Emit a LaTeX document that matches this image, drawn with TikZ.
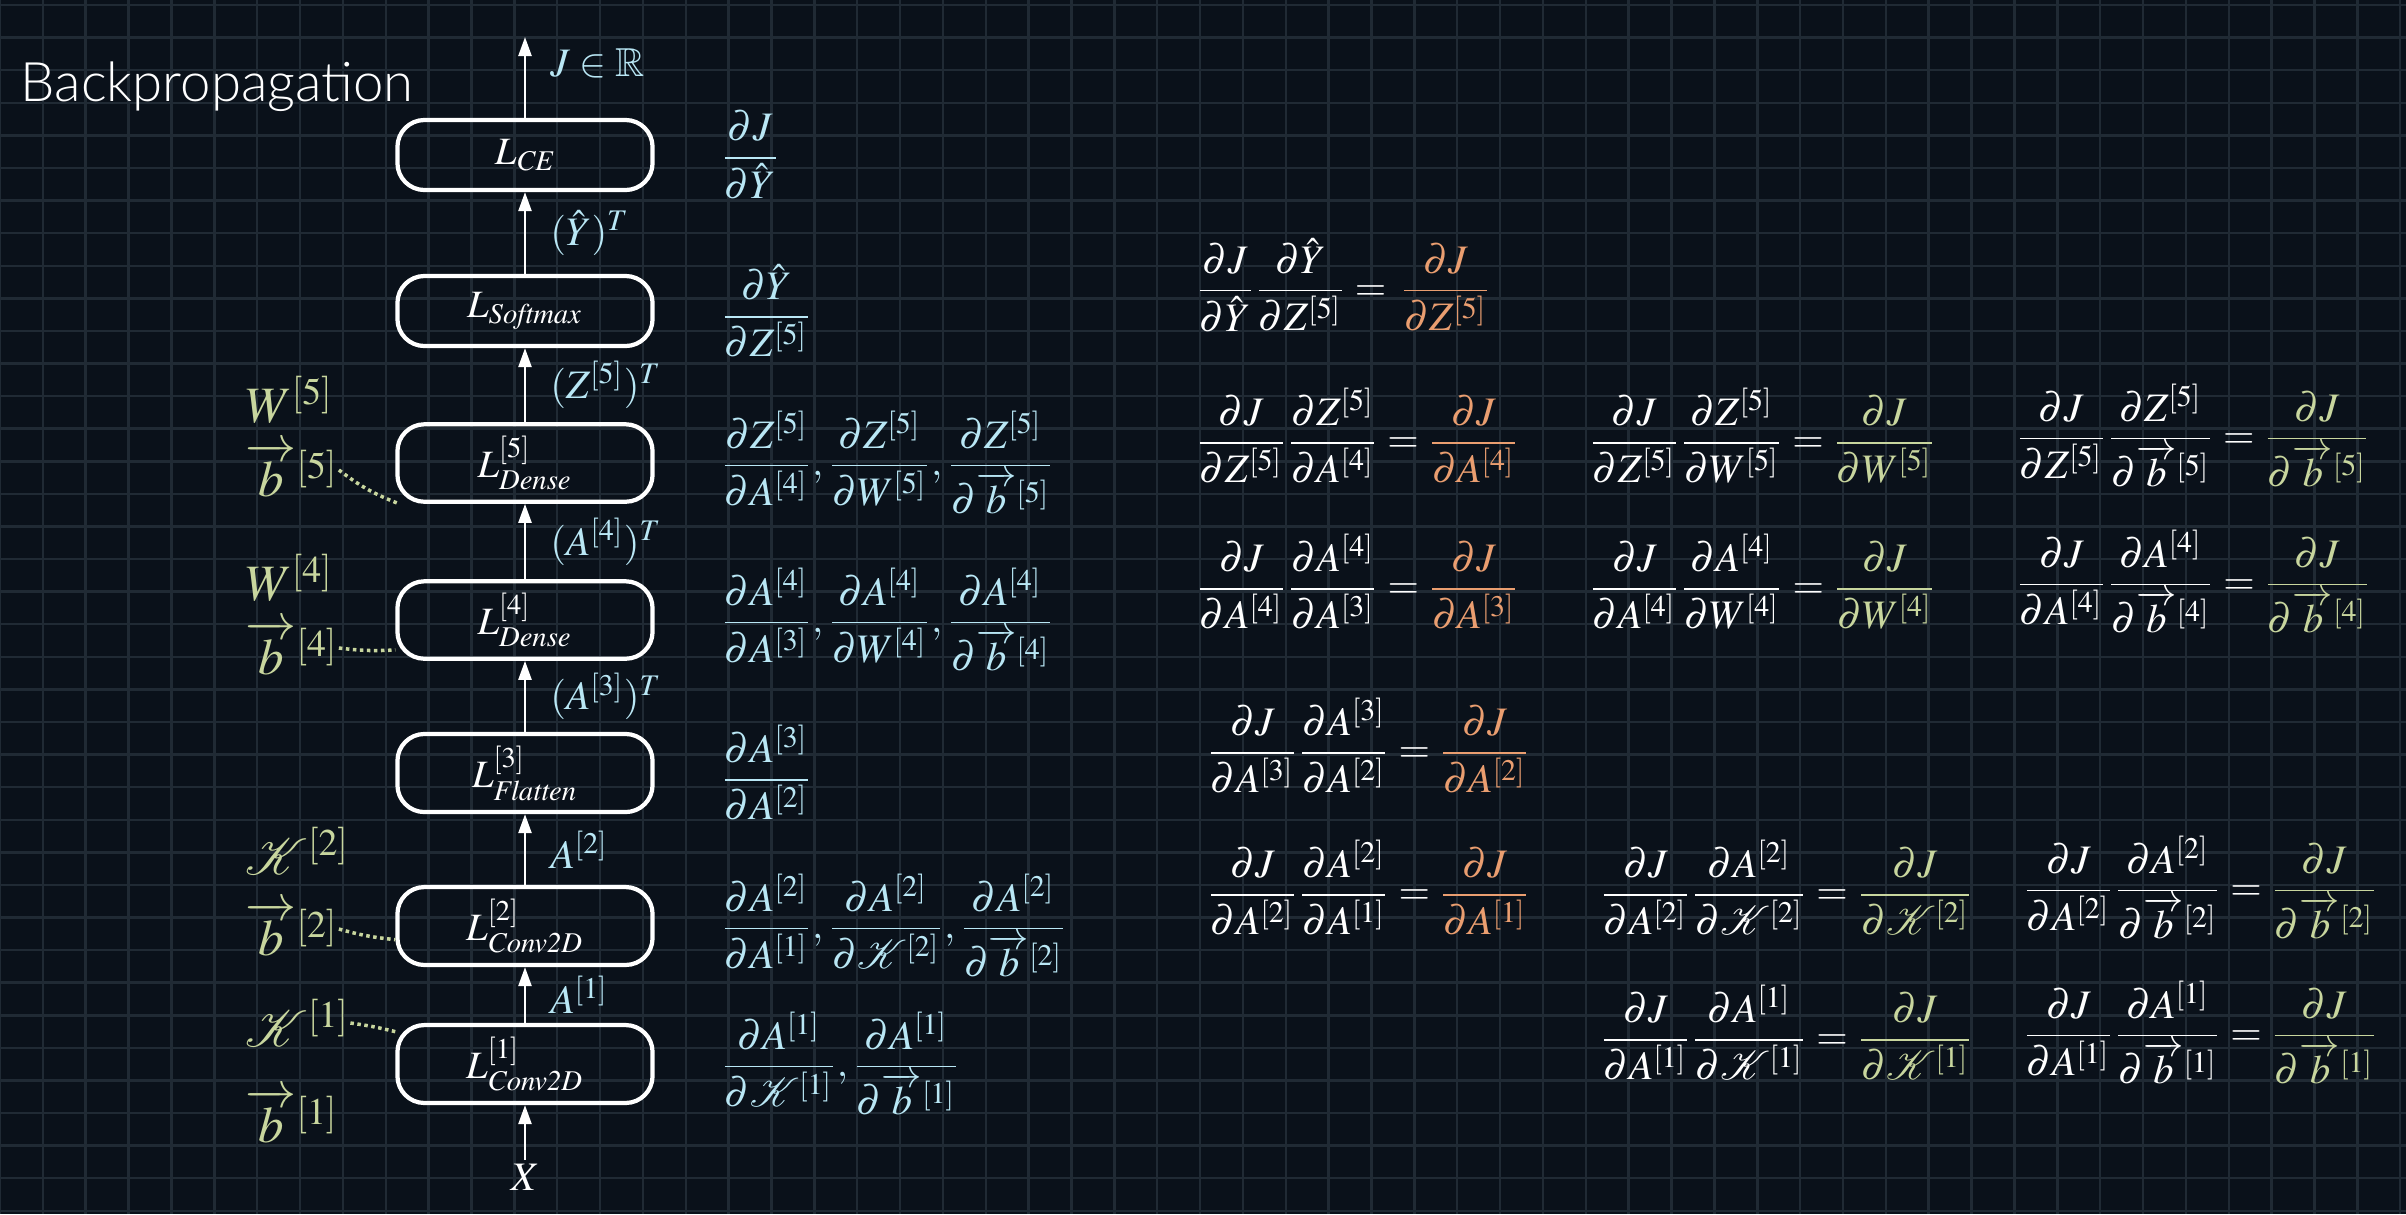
\documentclass[tikz,border=0pt]{standalone}
\usepackage{amsmath,amssymb}
% Times-like math when it is there, Computer Modern otherwise
\IfFileExists{mathptmx.sty}{%
    \usepackage{mathptmx}
    \newcommand{\eqsz}{11.5}\newcommand{\laysz}{11}\newcommand{\parsz}{14.5}}{%
    \newcommand{\eqsz}{11}\newcommand{\laysz}{10}\newcommand{\parsz}{13.5}}
\usepackage[no-math]{fontspec}
\usetikzlibrary{arrows.meta}

\IfFontExistsTF{Lato Light}{\newfontfamily\titlefont{Lato Light}}{\newfontfamily\titlefont{Lato}}

\definecolor{bgnavy}{RGB}{10,17,26}
\definecolor{gridcol}{RGB}{32,42,52}
\definecolor{lcyan}{RGB}{185,231,245}
\definecolor{lgreen}{RGB}{200,214,158}
\definecolor{lorange}{RGB}{234,158,112}

% partial derivative shorthands
\newcommand{\pfrac}[2]{\dfrac{\partial #1}{\partial #2}}
\newcommand{\bvec}{\overrightarrow{b}}
\newcommand{\orng}[1]{{\color{lorange}#1}}
\newcommand{\grn}[1]{{\color{lgreen}#1}}

\begin{document}
\begin{tikzpicture}[x=0.01cm, y=-0.01cm,
    layer/.style={draw=white, line width=1.2pt, rounded corners=0.27cm,
        minimum width=2.55cm, minimum height=0.70cm, text=white,
        font=\fontsize{\laysz}{12}\selectfont},
    flow/.style={white, line width=0.7pt, -{Triangle[width=0.13cm,length=0.19cm]}},
    elabel/.style={right, xshift=0.24cm, inner sep=0pt, text=lcyan,
        font=\fontsize{\eqsz}{13}\selectfont},
    grad/.style={anchor=west, inner sep=0pt, text=lcyan, font=\fontsize{\eqsz}{14}\selectfont},
    eqn/.style={anchor=west, inner sep=0pt, text=white, font=\fontsize{\eqsz}{14}\selectfont},
    param/.style={anchor=west, inner sep=0pt, text=lgreen, font=\fontsize{\parsz}{17}\selectfont},
    tie/.style={lgreen, densely dotted, line width=1pt}]

        % dark background with the grid
        \fill[bgnavy] (0,0) rectangle (2406,1214);
        \useasboundingbox (0,0) rectangle (2406,1214);
        \foreach \i in {0,...,56}
            \draw[gridcol, line width=0.7pt] ({\i*42.86},0) -- ({\i*42.86},1214);
        \foreach \j in {0,...,37}
            \draw[gridcol, line width=0.7pt] (0,{5+\j*32.59}) -- (2406,{5+\j*32.59});

        \node[anchor=base west, inner sep=0pt, text=white,
              font={\titlefont\fontsize{15.5}{18}\selectfont}] (title) at (20,101) {Backpropagation};

        % the layers, bottom to top
        \node[layer] (ce) at (525,155) {$L_{\mathit{CE}}$};
        \node[layer] (softmax) at (525,311) {$L_{\mathit{Softmax}}$};
        \node[layer] (dense5) at (525,463) {$L^{[5]}_{\mathit{Dense}}$};
        \node[layer] (dense4) at (525,620) {$L^{[4]}_{\mathit{Dense}}$};
        \node[layer] (flatten3) at (525,773) {$L^{[3]}_{\mathit{Flatten}}$};
        \node[layer] (conv2) at (525,926) {$L^{[2]}_{\mathit{Conv2D}}$};
        \node[layer] (conv1) at (525,1064) {$L^{[1]}_{\mathit{Conv2D}}$};

        \coordinate (J) at (525,37);
        \node[text=white, inner sep=1pt, font=\fontsize{\eqsz}{14}\selectfont] (X) at (525,1177) {$X$};

        % forward pass
        \draw[flow] (X) -- (conv1);
        \draw[flow] (conv1) -- node[elabel] {$A^{[1]}$} (conv2);
        \draw[flow] (conv2) -- node[elabel] {$A^{[2]}$} (flatten3);
        \draw[flow] (flatten3) -- node[elabel] {$(A^{[3]})^T$} (dense4);
        \draw[flow] (dense4) -- node[elabel] {$(A^{[4]})^T$} (dense5);
        \draw[flow] (dense5) -- node[elabel] {$(Z^{[5]})^T$} (softmax);
        \draw[flow] (softmax) -- node[elabel] {$(\hat{Y})^T$} (ce);
        \draw[flow] (ce) -- node[elabel, yshift=4pt] {$J \in \mathbb{R}$} (J);

        % trainable parameters
        \node[param] (W5) at (245,400) {$W^{[5]}$};
        \node[param] (b5) at (245,470) {$\bvec^{[5]}$};
        \node[param] (W4) at (245,578) {$W^{[4]}$};
        \node[param] (b4) at (245,648) {$\bvec^{[4]}$};
        \node[param] (K2) at (245,851) {$\mathcal{K}^{[2]}$};
        \node[param] (b2) at (245,929) {$\bvec^{[2]}$};
        \node[param] (K1) at (245,1023) {$\mathcal{K}^{[1]}$};
        \node[param] (b1) at (245,1116) {$\bvec^{[1]}$};

        \draw[tie] (b5.east) to[bend right=8] (dense5.198);
        \draw[tie] (b4.east) to[bend right=5] (dense4.193);
        \draw[tie] (b2.east) to[bend right=5] (conv2.186);
        \draw[tie] (K1.east) to[bend left=3] (conv1.166);

        % local gradients of every layer
        \node[grad] (g1) at (720,155) {$\pfrac{J}{\hat{Y}}$};
        \node[grad] (g2) at (720,311) {$\pfrac{\hat{Y}}{Z^{[5]}}$};
        \node[grad] (g3) at (720,463) {$\pfrac{Z^{[5]}}{A^{[4]}}, \pfrac{Z^{[5]}}{W^{[5]}}, \pfrac{Z^{[5]}}{\bvec^{[5]}}$};
        \node[grad] (g4) at (720,620) {$\pfrac{A^{[4]}}{A^{[3]}}, \pfrac{A^{[4]}}{W^{[4]}}, \pfrac{A^{[4]}}{\bvec^{[4]}}$};
        \node[grad] (g5) at (720,773) {$\pfrac{A^{[3]}}{A^{[2]}}$};
        \node[grad] (g6) at (720,926) {$\pfrac{A^{[2]}}{A^{[1]}}, \pfrac{A^{[2]}}{\mathcal{K}^{[2]}}, \pfrac{A^{[2]}}{\bvec^{[2]}}$};
        \node[grad] (g7) at (720,1064) {$\pfrac{A^{[1]}}{\mathcal{K}^{[1]}}, \pfrac{A^{[1]}}{\bvec^{[1]}}$};

        % chain rule, row by row
        \node[eqn] (e0) at (1195,285) {$\pfrac{J}{\hat{Y}}\pfrac{\hat{Y}}{Z^{[5]}} = \,\orng{\pfrac{J}{Z^{[5]}}}$};

        \node[eqn] (e1a) at (1195,436) {$\pfrac{J}{Z^{[5]}}\pfrac{Z^{[5]}}{A^{[4]}} = \orng{\pfrac{J}{A^{[4]}}}$};
        \node[eqn] (e1b) at (1588,436) {$\pfrac{J}{Z^{[5]}}\pfrac{Z^{[5]}}{W^{[5]}} = \grn{\pfrac{J}{W^{[5]}}}$};
        \node[eqn] (e1c) at (2015,436) {$\pfrac{J}{Z^{[5]}}\pfrac{Z^{[5]}}{\bvec^{[5]}} = \grn{\pfrac{J}{\bvec^{[5]}}}$};

        \node[eqn] (e2a) at (1195,582) {$\pfrac{J}{A^{[4]}}\pfrac{A^{[4]}}{A^{[3]}} = \orng{\pfrac{J}{A^{[3]}}}$};
        \node[eqn] (e2b) at (1588,582) {$\pfrac{J}{A^{[4]}}\pfrac{A^{[4]}}{W^{[4]}} = \grn{\pfrac{J}{W^{[4]}}}$};
        \node[eqn] (e2c) at (2015,582) {$\pfrac{J}{A^{[4]}}\pfrac{A^{[4]}}{\bvec^{[4]}} = \grn{\pfrac{J}{\bvec^{[4]}}}$};

        \node[eqn] (e3a) at (1206,746) {$\pfrac{J}{A^{[3]}}\pfrac{A^{[3]}}{A^{[2]}} = \orng{\pfrac{J}{A^{[2]}}}$};

        \node[eqn] (e4a) at (1206,888) {$\pfrac{J}{A^{[2]}}\pfrac{A^{[2]}}{A^{[1]}} = \orng{\pfrac{J}{A^{[1]}}}$};
        \node[eqn] (e4b) at (1599,888) {$\pfrac{J}{A^{[2]}}\pfrac{A^{[2]}}{\mathcal{K}^{[2]}} = \grn{\pfrac{J}{\mathcal{K}^{[2]}}}$};
        \node[eqn] (e4c) at (2022,888) {$\pfrac{J}{A^{[2]}}\pfrac{A^{[2]}}{\bvec^{[2]}} = \grn{\pfrac{J}{\bvec^{[2]}}}$};

        \node[eqn] (e5b) at (1599,1033) {$\pfrac{J}{A^{[1]}}\pfrac{A^{[1]}}{\mathcal{K}^{[1]}} = \grn{\pfrac{J}{\mathcal{K}^{[1]}}}$};
        \node[eqn] (e5c) at (2022,1033) {$\pfrac{J}{A^{[1]}}\pfrac{A^{[1]}}{\bvec^{[1]}} = \grn{\pfrac{J}{\bvec^{[1]}}}$};

\end{tikzpicture}
\end{document}
